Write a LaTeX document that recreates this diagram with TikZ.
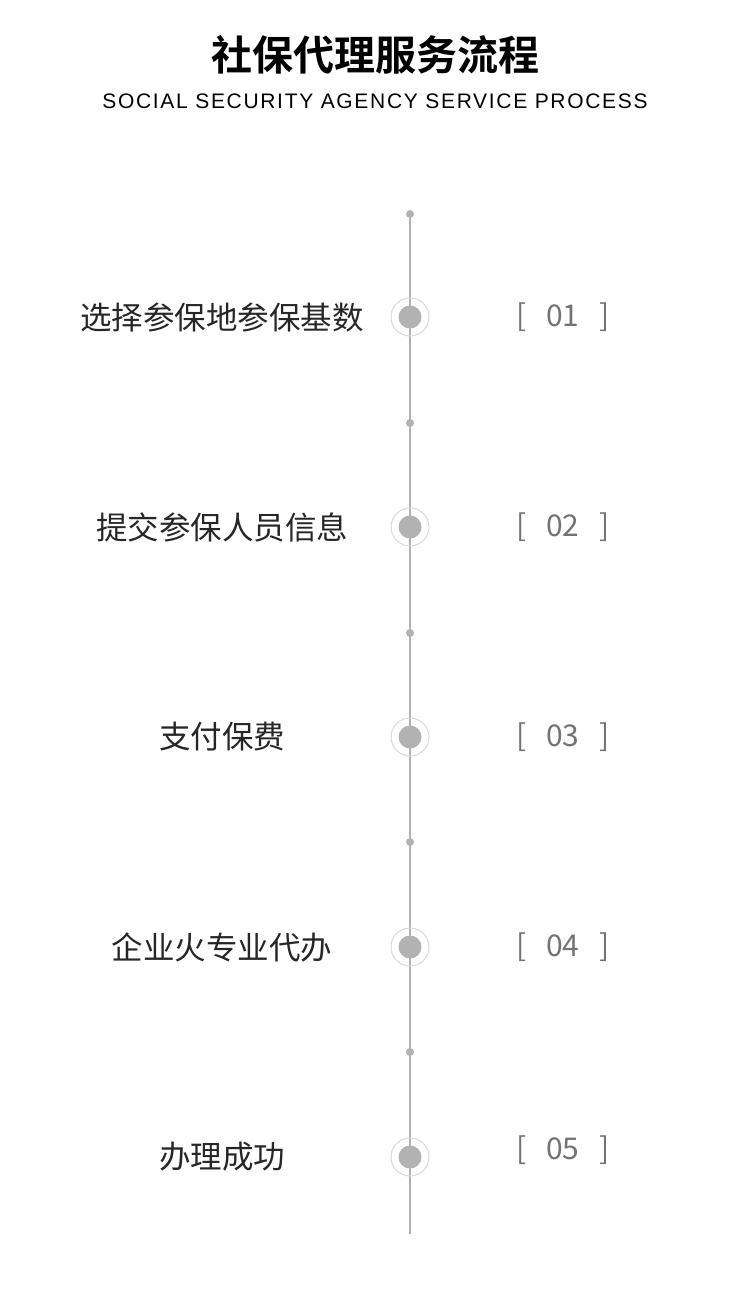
\documentclass[tikz,border=0pt]{standalone}
\usepackage{fontspec}
\setmainfont{Noto Sans CJK SC}
\newfontfamily\cjk{Noto Sans CJK SC}
\newfontfamily\cjkb{Noto Sans CJK SC Bold}
\newfontfamily\subf[LetterSpace=8]{Liberation Sans}
\begin{document}
\begin{tikzpicture}[x=1pt,y=-1pt,
  lab/.style={anchor=center,font=\cjk\fontsize{31.5}{33}\selectfont,text=black!85},
  num/.style={font=\fontsize{30}{32}\selectfont,text=black!55},
  dotsm/.style={circle,fill=black!30,inner sep=0,minimum size=8},
  dotbig/.style={circle,fill=black!30,inner sep=0,minimum size=23},
  ring/.style={circle,draw=black!15,line width=1,inner sep=0,minimum size=38}]
\useasboundingbox (0,0) rectangle (750,1294);
\node (title) at (375,55) {\cjkb\fontsize{41}{43}\selectfont 社保代理服务流程};
\node (sub) at (375,101) {\subf\fontsize{21}{23}\selectfont SOCIAL SECURITY AGENCY SERVICE PROCESS};
\coordinate (top) at (410,214);
\coordinate (bot) at (410,1234);
\draw[black!30,line width=1.2] (top) -- (bot);
\foreach \y/\n in {214/a,423/b,633/c,842/d,1052/e} \node[dotsm] (s\n) at (410,\y) {};
\foreach \y/\n/\t/\k/\ny in {317/1/选择参保地参保基数/01/317,527/2/提交参保人员信息/02/527,737/3/支付保费/03/737,947/4/企业火专业代办/04/947,1157/5/办理成功/05/1150}{
  \node[ring] (r\n) at (410,\y) {};
  \node[dotbig] (c\n) at (410,\y) {};
  \node[lab] (l\n) at (222,\y) {\t};
  \node[num] (n\n) at (563,\ny) {[\hspace{20pt}\k\hspace{20pt}]};
}
\end{tikzpicture}
\end{document}
